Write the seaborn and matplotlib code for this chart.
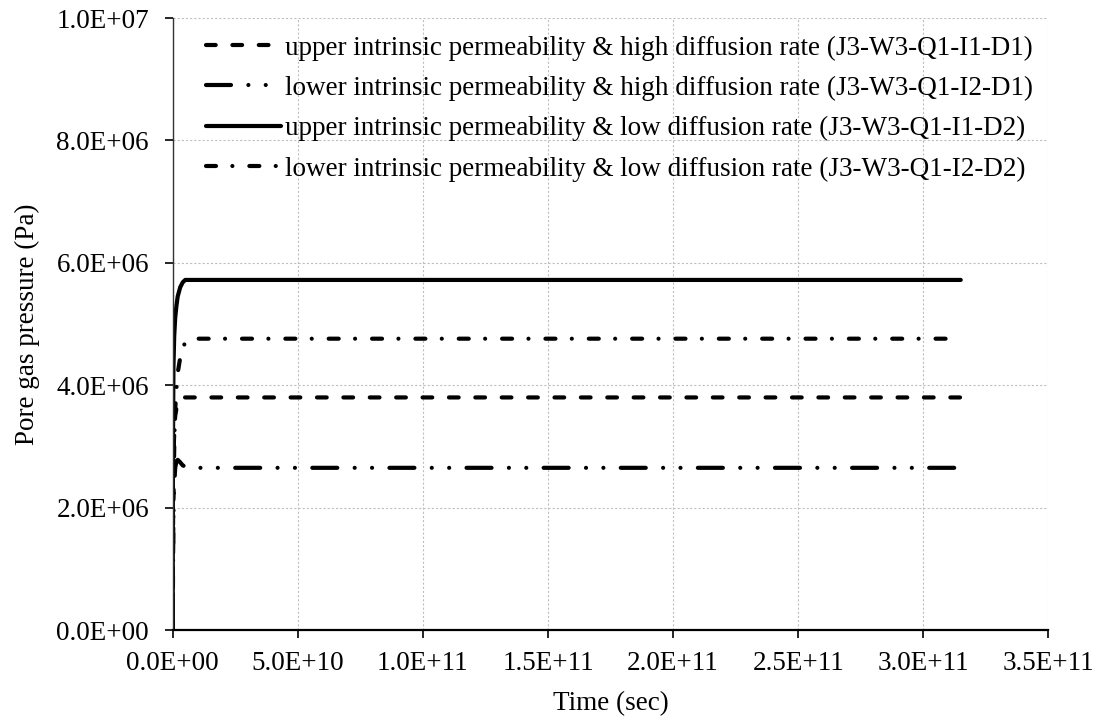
import matplotlib
matplotlib.use("Agg")
import matplotlib.pyplot as plt
from matplotlib.ticker import FuncFormatter
import seaborn as sns
import pandas as pd

# Pore gas pressure histories (time in s, pressure in Pa)
t_i1_d1 = [0, 2e8, 5e8, 1e9, 1.5e9, 2e9, 3e9, 4e9, 3.15e11]
p_i1_d1 = [0, 2.4e6, 3.1e6, 3.5e6, 3.62e6, 3.72e6, 3.78e6, 3.8e6, 3.8e6]

t_i2_d1 = [0, 2e8, 5e8, 1e9, 1.5e9, 2e9, 3e9, 4e9, 6e9, 3.15e11]
p_i2_d1 = [0, 1.6e6, 2.3e6, 2.65e6, 2.76e6, 2.78e6, 2.74e6, 2.69e6, 2.65e6, 2.65e6]

t_i1_d2 = [0, 1e8, 3e8, 6e8, 1e9, 1.5e9, 2e9, 3e9, 4e9, 5e9, 3.15e11]
p_i1_d2 = [0, 3.0e6, 4.3e6, 4.8e6, 5.1e6, 5.3e6, 5.45e6, 5.6e6, 5.68e6, 5.72e6, 5.72e6]

t_i2_d2 = [0, 3e8, 7e8, 1e9, 1.5e9, 2e9, 3e9, 4e9, 5e9, 7e9, 3.15e11]
p_i2_d2 = [0, 2.2e6, 3.2e6, 3.6e6, 3.95e6, 4.2e6, 4.45e6, 4.6e6, 4.7e6, 4.76e6, 4.76e6]

labels = [
    "upper intrinsic permeability & high diffusion rate (J3-W3-Q1-I1-D1)",
    "lower intrinsic permeability & high diffusion rate (J3-W3-Q1-I2-D1)",
    "upper intrinsic permeability & low diffusion rate (J3-W3-Q1-I1-D2)",
    "lower intrinsic permeability & low diffusion rate (J3-W3-Q1-I2-D2)",
]

x_ticks = [0, 5e10, 1e11, 1.5e11, 2e11, 2.5e11, 3e11, 3.5e11]
y_ticks = [0, 2e6, 4e6, 6e6, 8e6, 1e7]

sns.set_theme(style="white")
plt.rcParams["font.family"] = ["Liberation Serif", "DejaVu Serif"]
plt.rcParams["lines.scale_dashes"] = False
plt.rcParams["text.color"] = "black"
plt.rcParams["axes.labelcolor"] = "black"

FS = 19.5
LW = 3.0

fig = plt.figure(figsize=(11, 7.2), dpi=100)
ax = fig.add_axes([0.157, 0.125, 0.796, 0.850])

styles = [
    (0, (7.0, 12.0)),
    (0, (18.0, 12.5, 0.01, 12.5, 0.01, 12.5)),
    "-",
    (0, (7.2, 11.8, 0.01, 12.2)),
]
series = [(t_i1_d1, p_i1_d1), (t_i2_d1, p_i2_d1), (t_i1_d2, p_i1_d2), (t_i2_d2, p_i2_d2)]

for (t, p), lab, ls in zip(series, labels, styles):
    df = pd.DataFrame({"t": t, "p": p})
    sns.lineplot(data=df, x="t", y="p", ax=ax, color="black", linewidth=LW,
                 linestyle=ls, label=lab, sort=False, estimator=None,
                 dash_capstyle="round", solid_capstyle="round")

ax.set_xlim(0, 3.5e11)
ax.set_ylim(0, 1e7)
ax.set_xticks(x_ticks)
ax.set_yticks(y_ticks)
fmt = FuncFormatter(lambda v, pos: "{:.1E}".format(v))
ax.xaxis.set_major_formatter(fmt)
ax.yaxis.set_major_formatter(fmt)

ax.grid(True, color="#bdbdbd", linestyle=(0, (1.5, 1.5)), linewidth=0.8)
for s in ["top", "right"]:
    ax.spines[s].set_visible(False)
ax.spines["left"].set_color("#333333")
ax.spines["left"].set_linewidth(1.0)
ax.spines["bottom"].set_color("black")
ax.spines["bottom"].set_linewidth(1.6)
ax.tick_params(axis="both", which="major", direction="out", length=6, width=1.2,
               color="black", labelsize=FS, labelcolor="black",
               bottom=True, left=True)
ax.tick_params(axis="x", pad=9)
ax.tick_params(axis="y", pad=11)

ax.set_xlabel("Time (sec)", fontsize=FS, color="black", labelpad=11)
ax.set_ylabel("Pore gas pressure (Pa)", fontsize=FS, color="black", labelpad=12)

leg = ax.legend(loc="upper left", bbox_to_anchor=(0.02, 0.998), frameon=False,
                fontsize=FS, handlelength=2.75, handletextpad=0.15,
                labelspacing=0.56, borderaxespad=0.2)
for h in leg.get_lines():
    h.set_linewidth(LW)

fig.savefig("out.png", dpi=100)
